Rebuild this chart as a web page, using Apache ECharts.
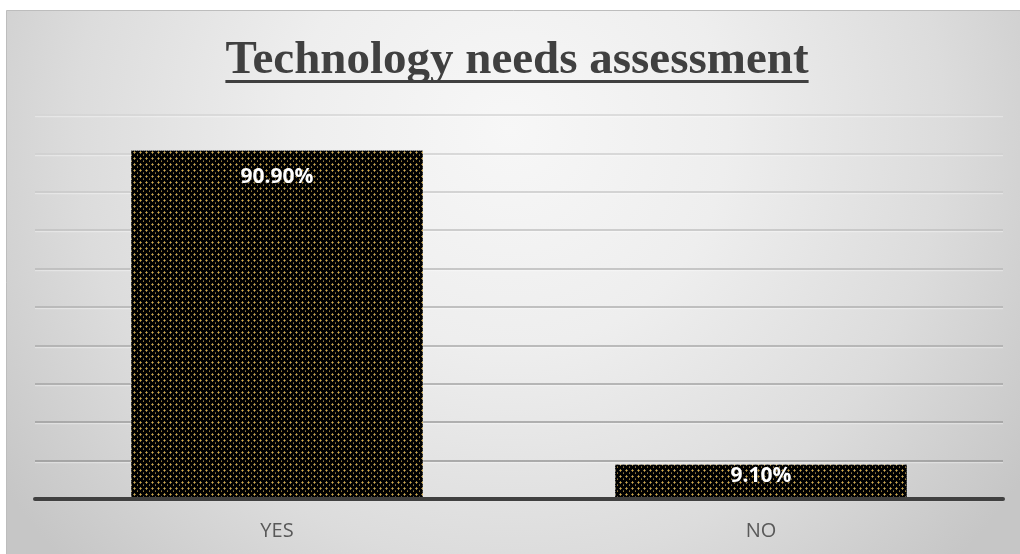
<!DOCTYPE html>
<html>
<head>
<meta charset="utf-8">
<script src="https://cdn.jsdelivr.net/npm/echarts@6/dist/echarts.min.js"></script>
<style>
  html, body { margin: 0; padding: 0; background: #ffffff; }
  #chart { width: 1020px; height: 554px; }
</style>
</head>
<body>
<div id="chart"></div>
<script>
// Survey answers and their shares (percent)
const categories = ['YES', 'NO'];
const shares = [90.9, 9.1];
const chartTitle = 'Technology needs assessment';
const yMax = 100;
const yStep = 10;

// Dotted fill used for the bars: black ground with small gold / tan crosses
function makeDotPattern() {
  const c = document.createElement('canvas');
  c.width = 6; c.height = 6;
  const g = c.getContext('2d');
  g.fillStyle = '#000000';
  g.fillRect(0, 0, 6, 6);
  const px = (x, y, col) => { g.fillStyle = col; g.fillRect(x, y, 1, 1); };
  px(2, 2, '#e0a838');
  px(1, 2, '#7a6e48');
  px(3, 2, '#7a6e48');
  px(2, 1, '#8c7a44');
  px(2, 3, '#8c7a44');
  px(5, 5, '#9a7a30');
  px(5, 4, '#5e5640');
  return c;
}

// Grid lines fade from darker near the baseline to faint at the top
const gridColors = ['#939393', '#979797', '#9d9d9d', '#a4a4a4', '#aaaaaa',
  '#b1b1b1', '#b8b8b8', '#c0c0c0', '#c8c8c8', '#cfcfcf', '#d5d5d5'];

const chart = echarts.init(document.getElementById('chart'), null, { renderer: 'canvas' });

// Width of the title so the underline can follow it
const titleFont = 'bold 47px "Liberation Serif", "Times New Roman", serif';
const meas = document.createElement('canvas').getContext('2d');
meas.font = titleFont;
const titleW = meas.measureText(chartTitle).width;
const titleCx = 517;

const pattern = makeDotPattern();

chart.setOption({
  animation: false,
  graphic: [
    {
      type: 'rect',
      z: -10,
      shape: { x: 6.5, y: 10.5, width: 1100, height: 600 },
      style: {
        fill: new echarts.graphic.RadialGradient(510, 130, 620, [
          { offset: 0, color: '#f7f7f7' },
          { offset: 0.35, color: '#eeeeee' },
          { offset: 0.7, color: '#dcdcdc' },
          { offset: 1, color: '#c6c6c6' }
        ], true),
        stroke: '#bdbdbd',
        lineWidth: 1
      },
      silent: true
    },
    {
      type: 'text',
      z: 10,
      x: titleCx,
      y: 61,
      style: {
        text: chartTitle,
        font: titleFont,
        fill: '#404040',
        align: 'center',
        verticalAlign: 'middle'
      },
      silent: true
    },
    {
      type: 'rect',
      z: 10,
      shape: { x: titleCx - titleW / 2, y: 80, width: titleW, height: 3 },
      style: { fill: '#404040' },
      silent: true
    }
  ],
  grid: { left: 35, right: 17, top: 115, bottom: 55 },
  xAxis: {
    type: 'category',
    data: categories,
    axisLine: { show: true, lineStyle: { color: '#404040', width: 4 } },
    axisTick: { show: false },
    axisLabel: {
      color: '#595959',
      fontSize: 20,
      fontFamily: '"Open Sans", sans-serif',
      margin: 22
    },
    z: 5
  },
  yAxis: {
    type: 'value',
    min: 0,
    max: yMax,
    interval: yStep,
    axisLine: { show: false },
    axisTick: { show: false },
    axisLabel: { show: false },
    splitLine: {
      show: true,
      lineStyle: {
        color: gridColors,
        width: 1.5,
        shadowColor: 'rgba(255,255,255,0.35)',
        shadowOffsetY: 1.5
      }
    }
  },
  series: [{
    type: 'bar',
    barWidth: '60.5%',
    data: shares.map((v, i) => ({
      value: v,
      label: { distance: i === 0 ? 17 : 1 }
    })),
    itemStyle: {
      color: { image: pattern, repeat: 'repeat' },
      borderColor: 'rgba(255,255,255,0.5)',
      borderWidth: 1,
      borderType: 'dotted'
    },
    label: {
      show: true,
      position: 'insideTop',
      formatter: p => p.value.toFixed(2) + '%',
      color: '#ffffff',
      fontSize: 21,
      fontWeight: 'bold',
      fontFamily: '"Open Sans", sans-serif',
      textShadowColor: 'rgba(0,0,0,0.6)',
      textShadowBlur: 2,
      textShadowOffsetY: 1
    }
  }]
});
</script>
</body>
</html>
